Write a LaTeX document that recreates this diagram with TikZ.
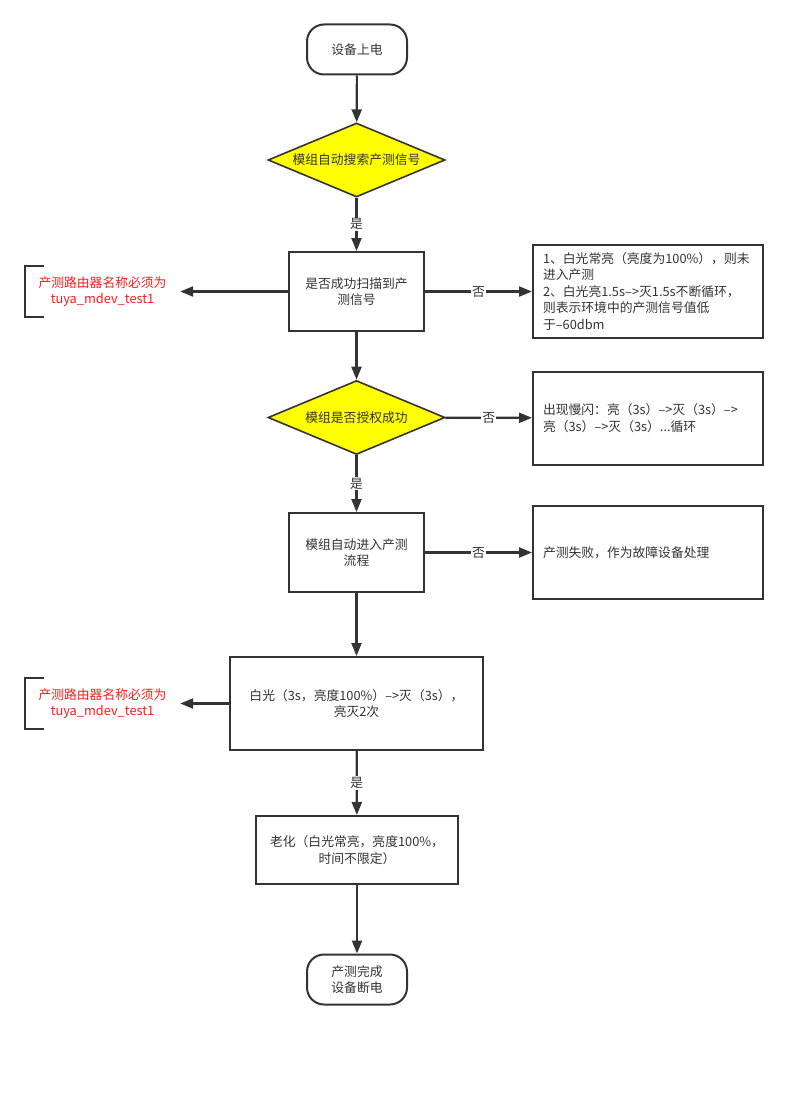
\documentclass[tikz,border=0pt]{standalone}
\usepackage{fontspec}
\newfontfamily\cjkfont{Noto Sans CJK SC}
\usepackage{tikz}
\usetikzlibrary{arrows.meta,shapes.geometric,positioning,calc}
\definecolor{lineGray}{HTML}{333333}
\definecolor{noteRed}{HTML}{FF1A1A}
\definecolor{decYellow}{HTML}{FFFF00}

\begin{document}
\begin{tikzpicture}[
    x=1pt, y=-1pt,
    base/.style={font=\cjkfont\fontsize{12.8}{16.5}\selectfont, text=lineGray},
    term/.style={base, draw=lineGray, line width=2pt, rounded corners=17pt, minimum width=100pt, minimum height=50pt, align=center},
    decision/.style={base, diamond, draw=lineGray, line width=1.6pt, fill=decYellow, inner sep=0pt, aspect=2.4, minimum width=177pt, minimum height=74pt},
    proc/.style={base, draw=lineGray, line width=2pt, align=center},
    result/.style={base, draw=lineGray, line width=2pt, align=left, text width=210pt, inner xsep=10pt, minimum height=93pt},
    note/.style={base, text=noteRed, align=center, minimum width=155pt, minimum height=51pt},
    arr/.style={-{Triangle[length=13pt,width=10pt]}, line width=2.2pt, draw=lineGray},
    lbl/.style={base, fill=white, inner sep=1pt}
]
\fill[white] (0,0) rectangle (788,1097);
\useasboundingbox (0,0) rectangle (788,1097);

\node[term] (start) at (357,49.5) {设备上电};
\node[decision] (search) at (356.5,160) {模组自动搜索产测信号};
\node[proc, minimum width=135pt, minimum height=79pt] (scan) at (356.5,291.5) {是否成功扫描到产\\测信号};
\node[result] (scanfail) at (648,291.5) {1、白光常亮（亮度为100\%），则未\\进入产测\\2、白光亮1.5s–>灭1.5s不断循环，\\则表示环境中的产测信号值低\\于–60dbm};
\node[note] (note1) at (102.5,291.5) {产测路由器名称必须为\\tuya\_mdev\_test1};
\node[decision] (auth) at (356.5,417.5) {模组是否授权成功};
\node[result] (authfail) at (648,418) {出现慢闪：亮（3s）–>灭（3s）–>\\亮（3s）–>灭（3s）...循环};
\node[proc, minimum width=135pt, minimum height=79pt] (flow) at (356.5,552.5) {模组自动进入产测\\流程};
\node[result] (flowfail) at (648,552.5) {产测失败，作为故障设备处理};
\node[proc, minimum width=253pt, minimum height=93pt] (blink) at (356.5,703.5) {白光（3s，亮度100\%）–>灭（3s），\\亮灭2次};
\node[note, minimum height=50pt] (note2) at (102.5,703.5) {产测路由器名称必须为\\tuya\_mdev\_test1};
\node[proc, minimum width=202pt, minimum height=68pt] (aging) at (357,850) {老化（白光常亮，亮度100\%，\\时间不限定）};
\node[term] (done) at (357,979.5) {产测完成\\设备断电};

\draw[line width=2pt, lineGray] ($(note1.north west)+(19,0)$) -- (note1.north west) -- (note1.south west) -- ++(19,0);
\draw[line width=2pt, lineGray] ($(note2.north west)+(19,0)$) -- (note2.north west) -- (note2.south west) -- ++(19,0);

\draw[arr] (start) -- (search);
\draw[arr] (search) -- node[lbl] {是} (scan);
\draw[arr] (scan) -- node[lbl] {否} (scanfail);
\draw[arr] (scan) -- (note1);
\draw[arr] (scan) -- (auth);
\draw[arr] (auth) -- node[lbl] {否} (authfail);
\draw[arr] (auth) -- node[lbl] {是} (flow);
\draw[arr] (flow) -- node[lbl] {否} (flowfail);
\draw[arr] (flow) -- (blink);
\draw[arr] (blink) -- (note2);
\draw[arr] (blink) -- node[lbl] {是} (aging);
\draw[arr] (aging) -- (done);
\end{tikzpicture}
\end{document}
